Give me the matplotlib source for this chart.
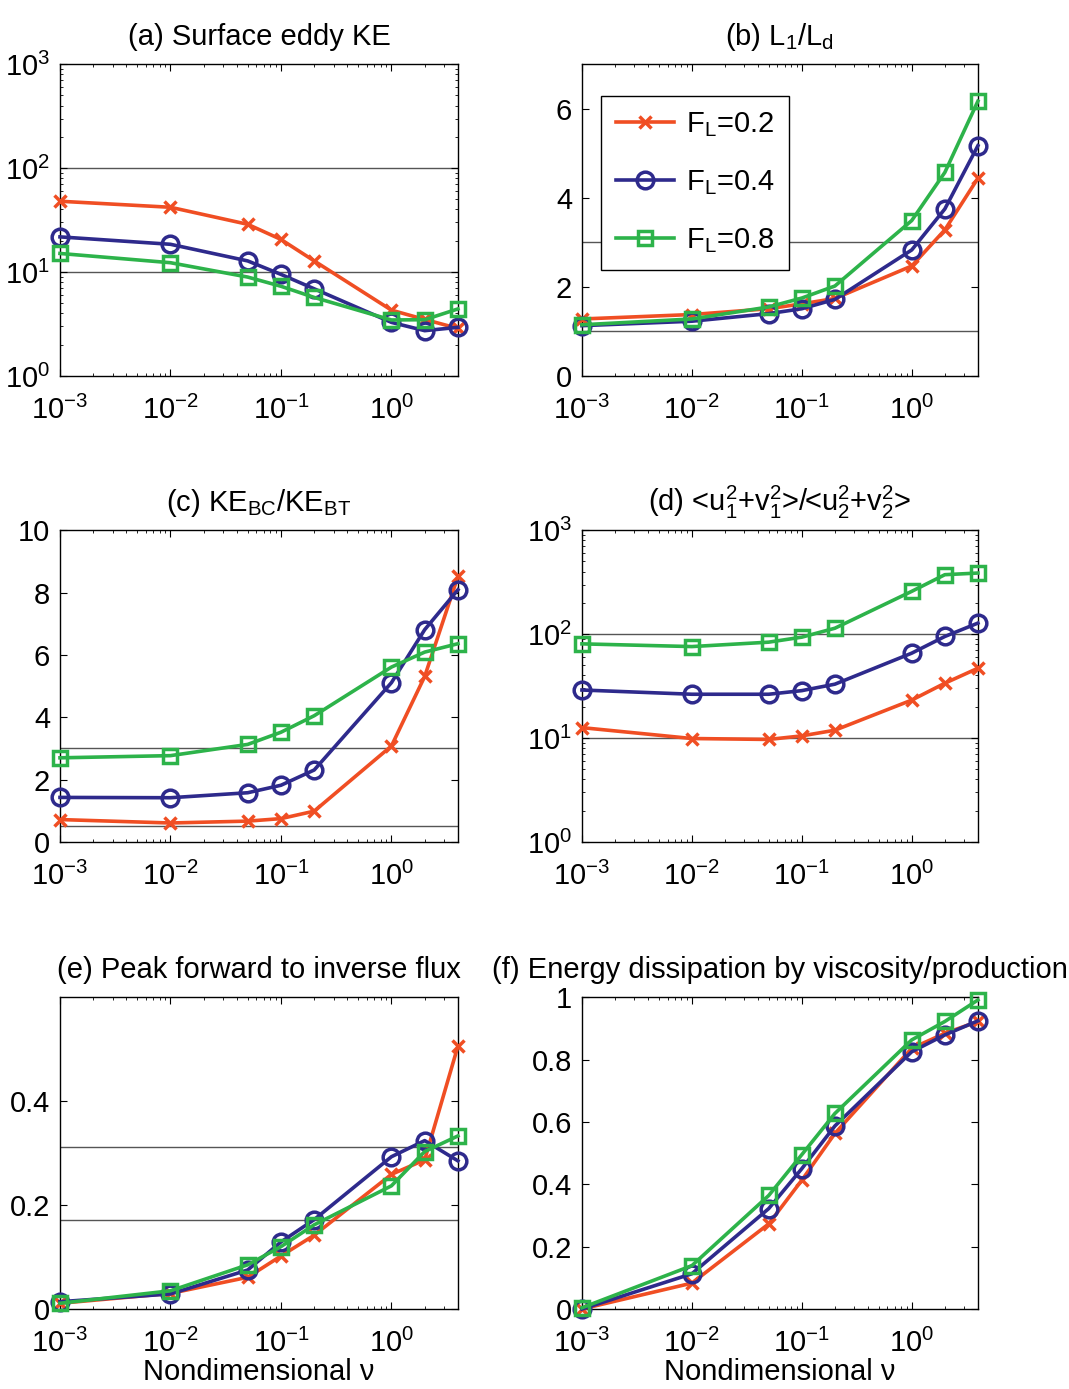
import matplotlib
matplotlib.use("Agg")
import matplotlib.pyplot as plt

plt.rcParams["font.family"] = ["Liberation Sans", "DejaVu Sans"]
plt.rcParams["font.size"] = 21
plt.rcParams["mathtext.default"] = "regular"

nu = [1e-3, 1e-2, 0.05, 0.1, 0.2, 1, 2, 4]

labels = [r"F$_{L}$=0.2", r"F$_{L}$=0.4", r"F$_{L}$=0.8"]

# (a) surface eddy KE
ke_a = [[48, 42, 28.8, 20.6, 12.8, 4.3, 3.5, 2.87],
        [21.8, 18.5, 12.8, 9.5, 6.9, 3.28, 2.73, 2.94],
        [15.1, 12.3, 8.95, 7.3, 5.7, 3.46, 3.48, 4.42]]
# (b) L1/Ld
ld_b = [[1.28, 1.38, 1.51, 1.62, 1.74, 2.47, 3.28, 4.44],
        [1.13, 1.23, 1.40, 1.51, 1.72, 2.83, 3.75, 5.17],
        [1.15, 1.28, 1.55, 1.75, 2.02, 3.49, 4.57, 6.17]]
# (c) KE_BC/KE_BT
ke_c = [[0.72, 0.61, 0.67, 0.75, 0.99, 3.08, 5.31, 8.52],
        [1.43, 1.42, 1.58, 1.82, 2.31, 5.11, 6.81, 8.09],
        [2.70, 2.77, 3.13, 3.52, 4.05, 5.61, 6.09, 6.36]]
# (d) upper/lower layer velocity variance
uv_d = [[12.6, 9.9, 9.7, 10.5, 11.9, 23.2, 33.7, 47],
        [29, 26.4, 26.4, 28.6, 33, 65.6, 94.9, 127.7],
        [80.6, 75.9, 83.7, 93.5, 114, 258, 373, 387]]
# (e) peak forward to inverse flux
fl_e = [[0.011, 0.030, 0.061, 0.102, 0.142, 0.259, 0.287, 0.506],
        [0.014, 0.029, 0.075, 0.129, 0.172, 0.293, 0.324, 0.285],
        [0.011, 0.035, 0.085, 0.120, 0.162, 0.237, 0.303, 0.333]]
# (f) dissipation by viscosity / production
ds_f = [[0.0, 0.083, 0.273, 0.413, 0.563, 0.836, 0.884, 0.922],
        [0.0, 0.113, 0.322, 0.450, 0.587, 0.825, 0.879, 0.924],
        [0.004, 0.139, 0.364, 0.495, 0.627, 0.863, 0.922, 0.991]]

colors = ["#f04e23", "#2e2a8c", "#2db34a"]
markers = ["x", "o", "s"]
msizes = [8, 12, 10]

fig = plt.figure(figsize=(10.69, 13.89), dpi=100)

lefts = [0.0561, 0.5444]
bottoms = [0.7293, 0.3938, 0.0576]
width = 0.3723
height = 0.2245


def style_axes(ax):
    ax.set_xscale("log")
    ax.set_xlim(1e-3, 4)
    ax.set_xticks([1e-3, 1e-2, 1e-1, 1])
    ax.tick_params(which="both", direction="in", top=True, right=True, labelsize=21)
    ax.tick_params(which="major", length=5, width=0.8)
    ax.tick_params(which="minor", length=2.5, width=0.6)
    ax.tick_params(axis="x", which="major", pad=14)
    ax.tick_params(axis="y", which="major", pad=7)
    for s in ax.spines.values():
        s.set_linewidth(1.0)


def draw(ax, data, ref_lines, title, logy=False):
    for y in ref_lines:
        ax.axhline(y, color="#555555", lw=1.0, zorder=1)
    for i in range(3):
        ax.plot(nu, data[i], color=colors[i], marker=markers[i], ms=msizes[i],
                mew=2.5, mfc="none", lw=2.6, label=labels[i], clip_on=False, zorder=3)
    if logy:
        ax.set_yscale("log")
    style_axes(ax)
    ax.set_title(title, fontsize=21, pad=14)


ax_a = fig.add_axes([lefts[0], bottoms[0], width, height])
draw(ax_a, ke_a, [10, 100], "(a) Surface eddy KE", logy=True)
ax_a.set_ylim(1, 1000)

ax_b = fig.add_axes([lefts[1], bottoms[0], 0.3704, height])
draw(ax_b, ld_b, [1, 3], r"(b) L$_{1}$/L$_{d}$")
ax_b.set_ylim(0, 7)
ax_b.set_yticks([0, 2, 4, 6])
leg = ax_b.legend(loc="upper left", bbox_to_anchor=(0.048, 0.898), fontsize=21,
                  fancybox=False, framealpha=1, edgecolor="black",
                  handlelength=2.0, labelspacing=1.0, borderpad=0.5,
                  handletextpad=0.4, borderaxespad=0)
leg.get_frame().set_linewidth(1.0)

ax_c = fig.add_axes([lefts[0], bottoms[1], width, height])
draw(ax_c, ke_c, [0.5, 3], r"(c) KE$_{BC}$/KE$_{BT}$")
ax_c.set_ylim(0, 10)
ax_c.set_yticks([0, 2, 4, 6, 8, 10])

ax_d = fig.add_axes([lefts[1], bottoms[1], 0.3704, height])
draw(ax_d, uv_d, [10, 100],
     r"(d) <u$_{1}^{2}$+v$_{1}^{2}$>/<u$_{2}^{2}$+v$_{2}^{2}$>", logy=True)
ax_d.set_ylim(1, 1000)

ax_e = fig.add_axes([lefts[0], bottoms[2], width, height])
draw(ax_e, fl_e, [0.172, 0.311], "(e) Peak forward to inverse flux")
ax_e.set_ylim(0, 0.6)
ax_e.set_yticks([0, 0.2, 0.4])
ax_e.set_yticklabels(["0", "0.2", "0.4"])
ax_e.set_xlabel("Nondimensional \u03bd", fontsize=21, labelpad=0)

ax_f = fig.add_axes([lefts[1], bottoms[2], 0.3704, height])
draw(ax_f, ds_f, [], "(f) Energy dissipation by viscosity/production")
ax_f.set_ylim(0, 1)
ax_f.set_yticks([0, 0.2, 0.4, 0.6, 0.8, 1])
ax_f.set_yticklabels(["0", "0.2", "0.4", "0.6", "0.8", "1"])
ax_f.set_xlabel("Nondimensional \u03bd", fontsize=21, labelpad=0)

plt.savefig("out.png", dpi=100)
